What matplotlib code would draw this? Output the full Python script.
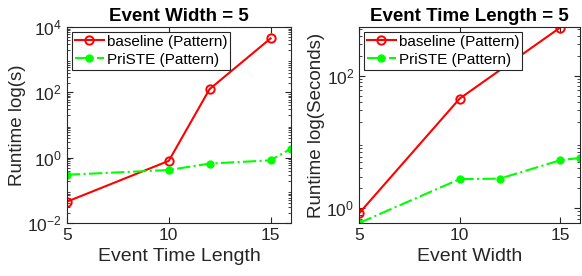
import matplotlib
matplotlib.use('Agg')
import matplotlib.pyplot as plt
import matplotlib.ticker as mtick

plt.rcParams['font.family'] = ['Liberation Sans', 'DejaVu Sans']
plt.rcParams['mathtext.fontset'] = 'custom'
plt.rcParams['mathtext.rm'] = 'Liberation Sans'

# left panel: Event Width = 5
length_x_base = [5, 10, 12, 15]
length_base = [0.045, 0.8, 125, 4500]
length_x_priste = [5, 10, 12, 15, 16]
length_priste = [0.3, 0.42, 0.66, 0.83, 1.9]

# right panel: Event Time Length = 5
width_x_base = [5, 10, 15]
width_base = [0.84, 45, 530]
width_x_priste = [5, 10, 12, 15, 16]
width_priste = [0.6, 2.75, 2.8, 5.3, 5.75]

fig = plt.figure(figsize=(5.82, 2.76), dpi=100)
ax1 = fig.add_axes([0.115, 0.192, 0.385, 0.71])
ax2 = fig.add_axes([0.617, 0.192, 0.380, 0.71])

axis_col = '#262626'

def style(ax, xs_b, ys_b, xs_p, ys_p, title, xlabel, ylabel, ylim, yticks):
    ax.plot(xs_b, ys_b, color='red', linestyle='-', linewidth=1.5, marker='o',
            markersize=6, markerfacecolor='none', markeredgewidth=1.4,
            label='baseline (Pattern)')
    ax.plot(xs_p, ys_p, color=(0, 1, 0), linestyle='-.', linewidth=1.5, marker='o',
            markersize=5, label='PriSTE (Pattern)')
    ax.set_yscale('log')
    ax.set_xlim(5, 16)
    ax.set_ylim(*ylim)
    ax.set_xticks([5, 10, 15])
    ax.set_yticks(yticks)
    ax.yaxis.set_minor_locator(mtick.LogLocator(base=10, subs=range(2, 10), numticks=20))
    ax.yaxis.set_minor_formatter(mtick.NullFormatter())
    ax.tick_params(which='both', direction='in', top=True, right=True,
                   colors=axis_col, labelsize=12.5)
    ax.tick_params(which='major', length=4)
    ax.tick_params(which='minor', length=2)
    for s in ax.spines.values():
        s.set_color(axis_col)
        s.set_linewidth(0.8)
    ax.set_title(title, fontsize=13.5, fontweight='bold', pad=4)
    ax.set_xlabel(xlabel, fontsize=14, color=axis_col, labelpad=4)
    ax.set_ylabel(ylabel, fontsize=13.5, color=axis_col, labelpad=1)
    leg = ax.legend(loc='upper left', fontsize=11, frameon=True, fancybox=False,
                    edgecolor=axis_col, framealpha=1, borderpad=0.2,
                    handlelength=1.9, handletextpad=0.2, labelspacing=0.25,
                    borderaxespad=0.3)
    leg.get_frame().set_linewidth(0.8)

style(ax1, length_x_base, length_base, length_x_priste, length_priste,
      'Event Width = 5', 'Event Time Length', 'Runtime log(s)',
      (1e-2, 1e4), [1e-2, 1e0, 1e2, 1e4])
style(ax2, width_x_base, width_base, width_x_priste, width_priste,
      'Event Time Length = 5', 'Event Width', 'Runtime log(Seconds)',
      (0.6, 540), [1e0, 1e2])

fig.savefig('out.png', dpi=100)
